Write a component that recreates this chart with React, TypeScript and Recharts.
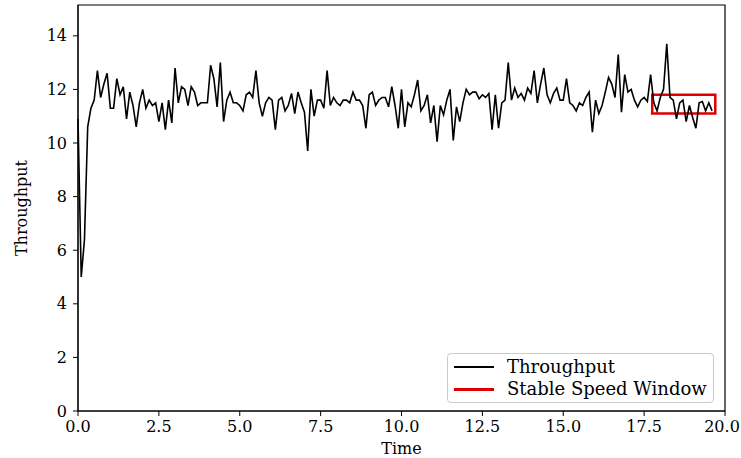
import React from 'react';
import { LineChart, Line, XAxis, YAxis, ReferenceArea, Label } from 'recharts';

// sampled every 0.1 time units, starting at t = 0
const TIME_STEP = 0.1;
const throughput = [
  10.9, 5.0, 6.4, 10.6, 11.3, 11.6, 12.7, 11.7, 12.2, 12.6,
  11.3, 11.3, 12.4, 11.8, 12.1, 10.9, 11.9, 11.4, 10.6, 11.5,
  12.0, 11.3, 11.6, 11.4, 11.5, 10.8, 11.5, 10.5, 11.6, 10.75,
  12.8, 11.5, 12.1, 12.0, 11.4, 12.1, 11.9, 11.4, 11.5, 11.5,
  11.5, 12.9, 12.4, 11.35, 13.0, 10.8, 11.6, 11.9, 11.5, 11.5,
  11.4, 11.2, 11.8, 11.9, 11.7, 12.7, 11.5, 11.0, 11.5, 11.7,
  11.6, 10.5, 11.6, 11.7, 11.2, 11.4, 11.85, 11.1, 11.9, 11.5,
  11.15, 9.7, 12.0, 11.0, 11.6, 11.6, 11.3, 12.7, 11.4, 11.7,
  11.5, 11.4, 11.6, 11.6, 11.5, 11.9, 11.6, 11.6, 11.4, 10.55,
  11.8, 11.9, 11.4, 11.6, 11.7, 11.7, 11.35, 12.1, 11.4, 10.55,
  12.0, 10.6, 11.5, 11.35, 11.8, 12.35, 11.2, 11.4, 11.8, 10.75,
  11.4, 10.05, 11.4, 11.05, 11.6, 12.0, 10.1, 11.35, 10.8, 11.5,
  12.0, 11.8, 11.9, 11.9, 11.65, 11.8, 11.7, 11.85, 10.5, 11.8,
  10.55, 11.5, 11.6, 13.0, 11.6, 12.05, 11.7, 11.85, 11.6, 12.05,
  11.85, 12.7, 11.5, 12.2, 12.8, 11.8, 11.5, 11.85, 12.05, 11.6,
  11.6, 12.4, 11.5, 11.4, 11.2, 11.5, 11.4, 11.7, 11.9, 10.4,
  11.6, 11.1, 11.4, 11.9, 12.45, 12.2, 11.7, 13.3, 11.15, 12.55,
  11.9, 12.0, 11.6, 11.35, 11.6, 11.7, 11.55, 12.55, 11.5, 11.2,
  11.7, 12.0, 13.7, 11.7, 11.6, 10.9, 11.5, 11.6, 10.8, 11.4,
  10.95, 10.55, 11.5, 11.55, 11.2, 11.5, 11.2,
];

// stable speed window box
const windowTime = [17.75, 19.7];
const windowThroughput = [11.1, 11.8];

const xTicks = [0, 2.5, 5, 7.5, 10, 12.5, 15, 17.5, 20];
const yTicks = [0, 2, 4, 6, 8, 10, 12, 14];
const xDomain = [0, 20];
const yDomain = [0, 15.15];

const data = throughput.map((v, i) => ({ t: +(i * TIME_STEP).toFixed(1), v }));

const font = '"DejaVu Serif", serif';
const tickStyle = { fontFamily: font, fontSize: 16, fill: '#000' };

// x tick label; the last one is nudged so it stays inside the page
const XTick = (props: any) => {
  const { x, y, payload } = props;
  const last = payload.value === xDomain[1];
  return (
    <text x={x} y={y} dx={last ? -3 : 0} dy={13} textAnchor="middle" style={tickStyle}>
      {payload.value.toFixed(1)}
    </text>
  );
};

const App: React.FC = () => {
  return (
    <div style={{ position: 'relative', width: 741, height: 458, background: '#fff' }}>
      <style>{'body{margin:0}'}</style>
      <LineChart width={741} height={458} data={data} margin={{ top: 5, right: 16, left: 0, bottom: 0 }}>
        <XAxis
          dataKey="t"
          type="number"
          domain={xDomain}
          ticks={xTicks}
          height={47}
          stroke="#000"
          tick={<XTick />}
          tickSize={5}
          tickMargin={3}
          interval={0}
        >
          <Label value="Time" position="insideBottom" offset={4} style={{ fontFamily: font, fontSize: 16, fill: '#000' }} />
        </XAxis>
        <YAxis
          type="number"
          domain={yDomain}
          ticks={yTicks}
          width={78}
          stroke="#000"
          tick={tickStyle}
          tickSize={5}
          tickMargin={6}
          interval={0}
        >
          <Label
            value="Throughput"
            angle={-90}
            position="insideLeft"
            offset={21}
            style={{ fontFamily: font, fontSize: 16, fill: '#000', textAnchor: 'middle' }}
          />
        </YAxis>
        <ReferenceArea x1={xDomain[0]} x2={xDomain[1]} y1={yDomain[0]} y2={yDomain[1]} fill="none" stroke="#000" strokeWidth={1.2} />
        <Line
          type="linear"
          dataKey="v"
          stroke="#000"
          strokeWidth={1.6}
          dot={false}
          activeDot={false}
          isAnimationActive={false}
        />
        <ReferenceArea
          x1={windowTime[0]}
          x2={windowTime[1]}
          y1={windowThroughput[0]}
          y2={windowThroughput[1]}
          fill="none"
          stroke="#e00000"
          strokeWidth={2.5}
        />
      </LineChart>
      <div
        style={{
          position: 'absolute',
          left: 447,
          top: 353,
          width: 265,
          height: 48,
          border: '1px solid #cccccc',
          borderRadius: 4,
          background: 'rgba(255,255,255,0.8)',
          fontFamily: font,
          fontSize: 18,
          color: '#000',
        }}
      >
        {[
          { name: 'Throughput', color: '#000', width: 1.6 },
          { name: 'Stable Speed Window', color: '#e00000', width: 3 },
        ].map((item, i) => (
          <div key={item.name} style={{ position: 'absolute', left: 0, top: 3 + i * 22, height: 20, display: 'flex', alignItems: 'center' }}>
            <div style={{ marginLeft: 6, width: 40, height: item.width, background: item.color }} />
            <span style={{ marginLeft: 13, lineHeight: '20px', whiteSpace: 'nowrap' }}>{item.name}</span>
          </div>
        ))}
      </div>
    </div>
  );
};

export default App;
